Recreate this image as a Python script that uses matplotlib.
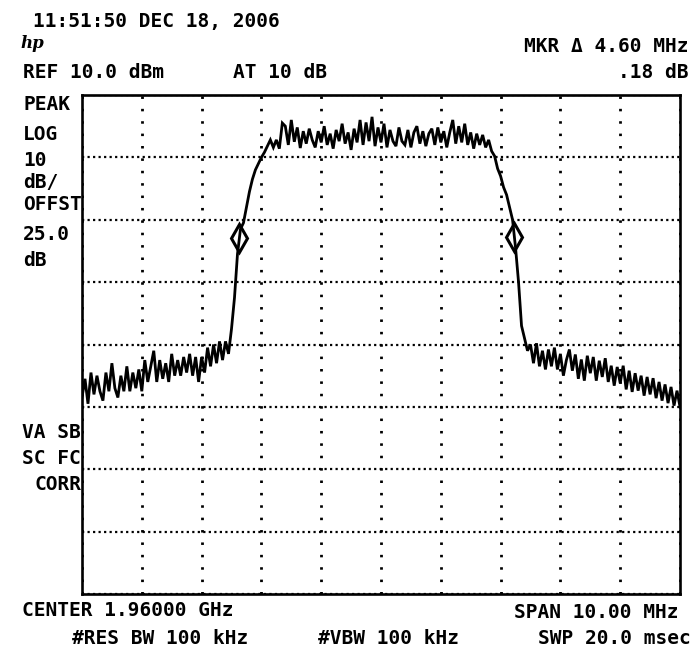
import numpy as np
import matplotlib
matplotlib.use("Agg")
import matplotlib.pyplot as plt

# ---------------- data ----------------
center_mhz = 1960.0
span_mhz = 10.0
ref_level = 10.0      # dBm (top of screen)
db_per_div = 10.0
n_points = 201

# trace level (dBm) at each of the 201 sweep points, 1955.00 .. 1965.00 MHz
left_floor = [
    -38.5, -35.5, -39.5, -34.5, -38.0, -35.0, -37.5, -39.0, -34.5, -37.5,
    -33.0, -37.0, -38.5, -35.0, -37.5, -33.5, -37.5, -34.5, -37.0, -34.0,
    -37.5, -32.5, -36.0, -33.5, -31.0, -36.0, -32.5, -35.5, -33.0, -36.0,
    -31.5, -35.0, -32.5, -35.0, -32.0, -34.5, -31.5, -35.0, -32.0, -36.0,
    -32.0, -34.5, -30.5, -33.5, -30.0, -33.0, -29.5, -32.5, -29.5, -31.5,
]
rising_edge = [
    -27.5, -22.5, -15.5, -11.5, -10.5, -8.0, -5.5, -3.5, -2.0, -1.0,
    0.0, 0.8, 1.8, 2.8, 1.6, 2.8, 1.4, 5.5,
]
channel_top = [
    5.0, 2.0, 6.0, 2.5, 4.8, 1.5, 4.2, 2.2, 4.6, 2.8,
    1.6, 4.2, 2.4, 5.0, 2.0, 3.8, 1.4, 4.4, 2.6, 5.4,
    2.2, 4.0, 1.2, 4.6, 2.4, 6.0, 2.0, 5.6, 2.6, 6.5,
    1.8, 4.8, 2.4, 5.4, 1.6, 4.4, 2.6, 1.8, 4.8, 2.6,
    2.0, 4.4, 1.6, 4.0, 5.0, 2.2, 4.2, 1.8, 3.8, 4.6,
    2.0, 4.8, 2.4, 4.2, 1.6, 4.0, 6.0, 2.2, 5.0, 2.4,
    5.4, 2.0, 4.0, 1.4, 3.8, 2.0, 3.6, 1.6,
]
falling_edge = [
    2.8, 1.0, 0.2, -1.8, -3.0, -4.8, -6.0, -8.0, -10.0, -14.5,
    -20.0, -27.0, -29.0, -31.0,
]
right_floor = [
    -30.0, -33.0, -29.8, -33.5, -31.0, -34.0, -30.8, -33.5, -30.5, -34.0,
    -31.5, -35.0, -32.5, -30.8, -34.2, -31.6, -35.5, -32.4, -35.8, -31.8,
    -34.6, -32.0, -35.8, -32.6, -35.2, -32.2, -36.0, -33.4, -36.6, -33.6,
    -36.2, -33.4, -37.2, -34.2, -37.6, -34.6, -37.4, -35.0, -38.2, -35.2,
    -38.0, -35.4, -38.6, -36.0, -39.0, -36.4, -39.4, -36.8, -39.8, -37.4,
    -40.0,
]
trace_dbm = left_floor + rising_edge + channel_top + falling_edge + right_floor

marker_mhz = [1957.63, 1962.23]
marker_dbm = [-12.90, -12.72]

# ---------------- figure ----------------
W, H = 693, 653
fig = plt.figure(figsize=(W / 100, H / 100), dpi=100)
fig.patch.set_facecolor("white")

x0, x1, y0, y1 = 82, 680, 95, 594
ax = fig.add_axes([x0 / W, 1 - y1 / H, (x1 - x0) / W, (y1 - y0) / H])

f_start = center_mhz - span_mhz / 2
f_stop = center_mhz + span_mhz / 2
freq = np.linspace(f_start, f_stop, n_points)

ax.plot(freq, trace_dbm, color="black", lw=2.0, solid_joinstyle="miter", zorder=3)
ax.plot(marker_mhz, marker_dbm, ls="none", marker="d", ms=14, mfc="none",
        mec="black", mew=2.2, zorder=4)

ax.set_xlim(f_start, f_stop)
ax.set_ylim(ref_level - 8 * db_per_div, ref_level)
ax.set_xticks(np.arange(f_start, f_stop + 0.01, span_mhz / 10))
ax.set_yticks(np.arange(ref_level - 8 * db_per_div, ref_level + 0.01, db_per_div))
ax.tick_params(length=0, labelbottom=False, labelleft=False)
ax.xaxis.grid(True, color="black", lw=2.0, linestyle=(0, (0.9, 3.56)))
ax.yaxis.grid(True, color="black", lw=1.6, linestyle=(0, (1.0, 1.48)))
ax.set_axisbelow(True)
for s in ax.spines.values():
    s.set_linewidth(1.9)
    s.set_color("black")

FONT = dict(family="DejaVu Sans Mono", weight="bold", fontsize=14, color="black")


def txt(x, y, s, ha="left", **kw):
    d = dict(FONT)
    d.update(kw)
    fig.text(x / W, 1 - y / H, s, ha=ha, va="center", **d)


txt(33, 21, "11:51:50 DEC 18, 2006")
fig.text(20 / W, 1 - 43 / H, "hp", ha="left", va="center", family="DejaVu Serif",
         style="italic", weight="bold", fontsize=12)
txt(23, 72, "REF 10.0 dBm")
txt(233, 72, "AT 10 dB")
txt(688, 47, "MKR \u0394 4.60 MHz", ha="right")
txt(688, 72, ".18 dB", ha="right")

left_labels = [("PEAK", 105), ("LOG", 134), ("10", 160), ("dB/", 182),
               ("OFFST", 205), ("25.0", 234), ("dB", 260)]
for s, y in left_labels:
    txt(23, y, s)
for s, y in [("VA SB", 432), ("SC FC", 458), ("CORR", 484)]:
    txt(81, y, s, ha="right")

txt(22, 611, "CENTER 1.96000 GHz")
txt(678, 612, "SPAN 10.00 MHz", ha="right")
txt(72, 638, "#RES BW 100 kHz")
txt(318, 638, "#VBW 100 kHz")
txt(691, 639, "SWP 20.0 msec", ha="right")

fig.savefig("out.png", dpi=100, facecolor="white")
